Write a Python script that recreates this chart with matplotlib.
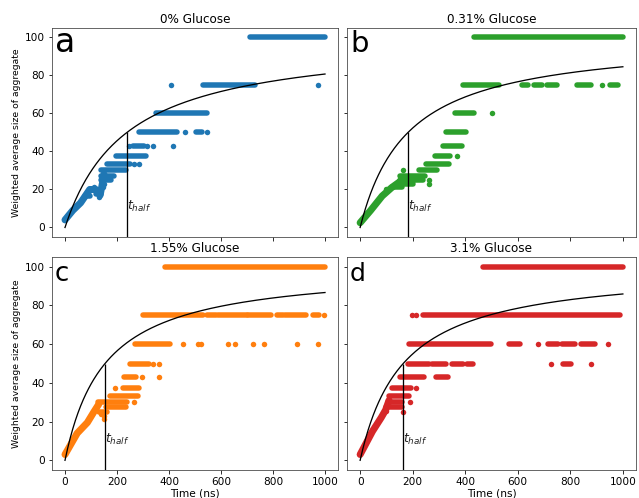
import matplotlib.pyplot as plt
import numpy as np

titles = ["0% Glucose", "0.31% Glucose", "1.55% Glucose", "3.1% Glucose"]
letters = ["a", "b", "c", "d"]
letter_sizes = [33, 29, 26, 25]
colors = ["tab:blue", "tab:green", "tab:orange", "tab:red"]
t_half = [238, 182, 154, 164]

# plateaus where the points sit back to back: (size, first t, last t)
runs_a = [(100, 712, 1000), (75, 530, 730), (60, 350, 545), (50, 286, 432),
          (50, 505, 525), (42.9, 262, 305), (37.5, 196, 310), (33.3, 160, 250),
          (30, 139, 235), (27.3, 138, 190), (25, 140, 175), (20, 95, 118),
          (17.6, 118, 140), (16.7, 75, 95)]
# single points
dots_a = [(408, 75), (972, 75), (462, 50), (548, 50), (245, 42.9),
          (316, 42.9), (339, 42.9), (414, 42.9), (265, 33.3), (285, 33.3),
          (150, 23), (145, 21.4), (130, 16), (110, 21.4), (88, 18)]
# dense early growth (traced along its middle)
ramp_a = [(0, 4), (30, 9), (60, 13), (80, 17), (95, 20), (118, 20), (135, 17),
          (145, 24), (150, 28)]

runs_b = [(100, 435, 1000), (75, 392, 527), (75, 615, 638), (75, 663, 691),
          (75, 710, 748), (75, 827, 880), (75, 950, 981), (60, 362, 435),
          (50, 328, 403), (42.9, 314, 387), (37.5, 284, 343), (33.3, 251, 337),
          (30, 223, 292), (27.3, 150, 245), (25, 150, 240), (23.1, 150, 200),
          (21.4, 120, 160)]
dots_b = [(502, 60), (367, 37.5), (920, 75), (164, 30), (262, 25),
          (262, 23.1), (200, 25), (100, 20), (80, 16.7)]
ramp_b = [(0, 2.5), (40, 9), (84, 16.6), (120, 21), (150, 24)]

runs_c = [(100, 385, 1000), (75, 301, 532), (75, 545, 581), (75, 587, 700),
          (75, 705, 792), (75, 814, 837), (75, 847, 927), (75, 952, 978),
          (60, 268, 404), (50, 250, 322), (42.9, 228, 273), (37.5, 222, 283),
          (33.3, 172, 281), (30, 125, 240), (27.3, 156, 233), (25, 130, 160)]
dots_c = [(997, 75), (452, 60), (511, 60), (524, 60), (625, 60), (652, 60),
          (722, 60), (764, 60), (892, 60), (972, 60), (340, 50), (363, 50),
          (295, 42.9), (363, 42.9), (192, 37.5), (265, 30), (150, 21.4),
          (150, 23), (140, 24)]
ramp_c = [(0, 3), (47, 14), (86, 19.5), (111, 25), (130, 29)]

runs_d = [(100, 467, 1000), (75, 240, 991), (60, 187, 499), (60, 565, 609),
          (60, 714, 754), (60, 767, 817), (60, 840, 893), (50, 182, 262),
          (50, 275, 328), (50, 350, 390), (50, 407, 430), (50, 773, 804),
          (42.9, 153, 243), (42.9, 288, 335), (37.5, 123, 192),
          (33.3, 108, 185), (30, 105, 160), (27.3, 100, 158)]
dots_d = [(199, 75), (214, 75), (678, 60), (943, 60), (726, 50), (880, 50),
          (212, 37.5), (163, 25), (190, 30), (100, 25.5)]
ramp_d = [(0, 3), (47, 15), (80, 22), (97, 26), (110, 31)]

runs = [runs_a, runs_b, runs_c, runs_d]
dots = [dots_a, dots_b, dots_c, dots_d]
ramps = [ramp_a, ramp_b, ramp_c, ramp_d]

# axes boxes in pixels: left, top, right, bottom
W, H = 639, 498
boxes = [(52, 28, 338, 237), (347, 28, 636, 237),
         (52, 257, 338, 470), (347, 257, 636, 470)]

fig, axes = plt.subplots(2, 2, sharex=True, sharey=True,
                         figsize=(W / 72, H / 72), dpi=72)
axes = axes.ravel()

for i, ax in enumerate(axes):
    l, t, r, b = boxes[i]
    ax.set_position([l / W, 1 - b / H, (r - l) / W, (b - t) / H])
    c = colors[i]

    for lev, t0, t1 in runs[i]:
        ax.plot([t0, t1], [lev, lev], color=c, lw=5.5, solid_capstyle="round")
    rt, rv = zip(*ramps[i])
    ax.plot(rt, rv, color=c, lw=7, solid_capstyle="round",
            solid_joinstyle="round")
    dt, dv = zip(*dots[i])
    ax.scatter(dt, dv, s=30, color=c, linewidths=0)

    # fitted curve and half time
    tt = np.linspace(0, 1000, 300)
    ax.plot(tt, 100 * tt / (tt + t_half[i]), color="black", lw=1.3)
    ax.vlines(t_half[i], -5, 50, color="black", lw=1.3)
    ax.text(t_half[i], 9, r"$t_{half}$", fontsize=12.5, color="#222222")

    ax.set_title(titles[i], fontsize=12, pad=5)
    ax.text(0.01, 0.885, letters[i], transform=ax.transAxes,
            fontsize=letter_sizes[i], va="baseline")
    ax.tick_params(labelsize=10.5)
    for s in ax.spines.values():
        s.set_color("#444444")

axes[0].set_xlim(-50, 1050)
axes[0].set_ylim(-5, 105)
axes[0].set_xticks([0, 200, 400, 600, 800, 1000])
axes[0].set_yticks([0, 20, 40, 60, 80, 100])

for ax in (axes[0], axes[2]):
    ax.set_ylabel("Weighted average size of aggregate", fontsize=9.3)
for ax in (axes[2], axes[3]):
    ax.set_xlabel("Time (ns)", fontsize=10.5, labelpad=1)

fig.savefig("out.png", dpi=72)
